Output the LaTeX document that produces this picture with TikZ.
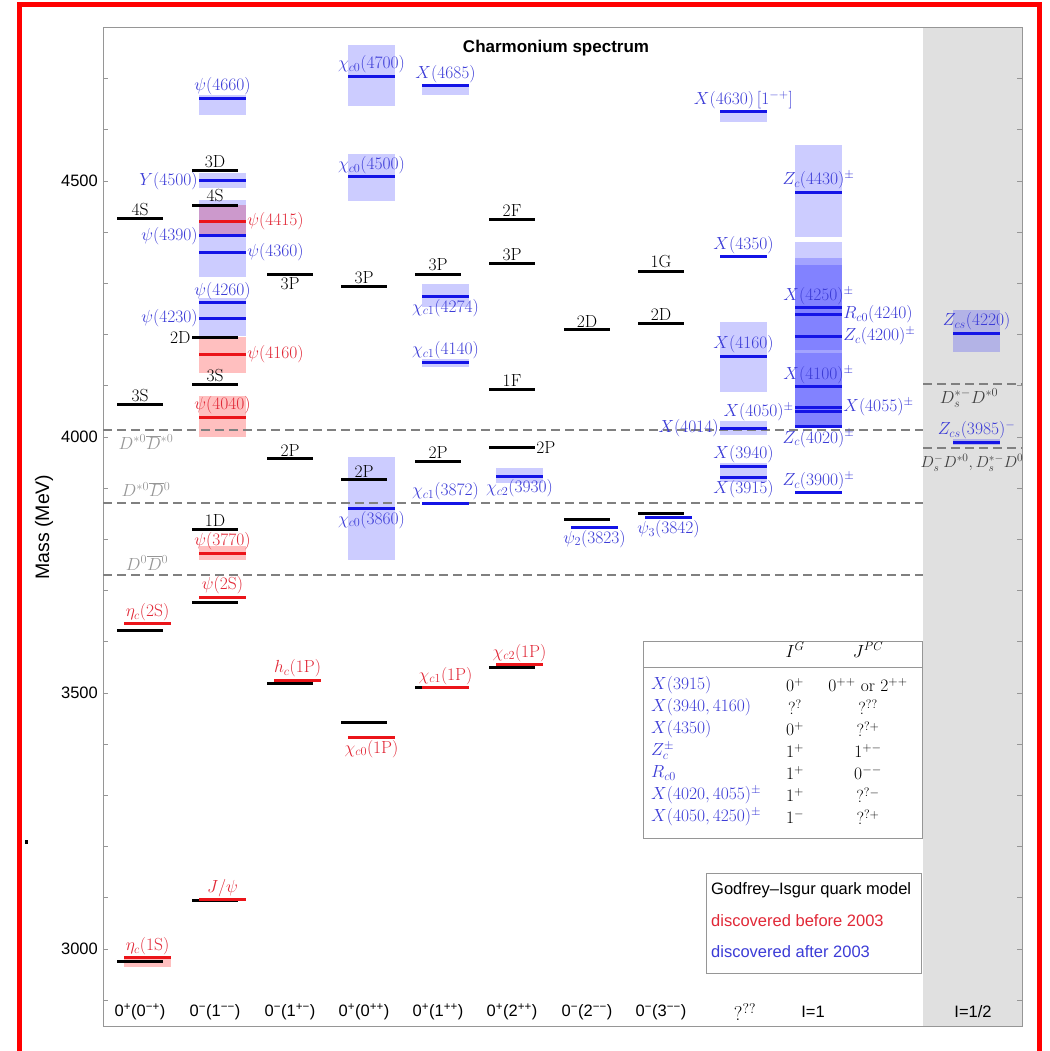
\RequirePackage{fix-cm}
\documentclass[tikz,border=0pt]{standalone}
\usepackage{fontspec}
\setsansfont{Liberation Sans}
\usetikzlibrary{positioning}
\definecolor{barblue}{RGB}{20,20,230}
\definecolor{barred}{RGB}{235,20,25}
\definecolor{txtblue}{RGB}{60,60,215}
\definecolor{txtred}{RGB}{225,40,55}
\definecolor{thrgray}{RGB}{128,128,128}
\definecolor{thrtxt}{RGB}{150,150,150}
\definecolor{bandgray}{RGB}{224,224,224}
\definecolor{framegray}{RGB}{150,150,150}
\tikzset{
  gibar/.style={fill=black, minimum width=46pt, minimum height=3pt, inner sep=0pt},
  cbar/.style={fill=#1, minimum width=47pt, minimum height=3pt, inner sep=0pt},
  lab/.style={font=\fontsize{17.5}{20}\selectfont, inner sep=1pt},
  every label/.style={lab},
  blueband/.style={fill=blue, fill opacity=0.2},
  redband/.style={fill=red, fill opacity=0.25},
  thr/.style={thrgray, line width=2.5pt, dash pattern=on 9pt off 5pt},
  axisframe/.style={draw=framegray, line width=0.8pt},
  axislab/.style={font=\sffamily\fontsize{16.5}{19}\selectfont, inner sep=1pt},
}

\begin{document}
\begin{tikzpicture}[x=1pt, y=0.512pt]
\useasboundingbox (0,2800.8) rectangle (1049,4853.5);

% I=1/2 band, frame and mass axis
\fill[bandgray] (923,2848) rectangle (1022,4800);
\draw[axisframe] (103,2848) rectangle (1022,4800);
\foreach \m in {2900,3000,...,4700} {
  \draw[axisframe] (103,\m) -- (108,\m);
  \draw[axisframe] (1022,\m) -- (1017,\m);
}
\foreach \m in {3000,3500,4000,4500}
  \node[axislab, anchor=east] (t\m) at (99,\m) {\m};
\node[axislab, font=\sffamily\fontsize{19.5}{22}\selectfont, rotate=90] (ylab) at (44,3824) {Mass (MeV)};
\node[axislab, font=\sffamily\bfseries\fontsize{17}{20}\selectfont] (title) at (556,4760) {Charmonium spectrum};
\fill (24.5,3206) rectangle (27.5,3212);

% widths
\foreach \x/\lo/\hi in {140/2965/2985, 215/4391/4453, 215/4125/4195, 215/4000/4080, 215/3759/3787}
  \fill[redband] (\x-16,\lo) rectangle (\x+31,\hi);
\foreach \x/\lo/\hi in {215/4629/4668, 215/4486/4516, 215/4312/4463, 215/4197/4271,
  364/4646/4766, 364/4461/4553, 364/3760/3961, 438/4668/4687, 438/4254/4299,
  438/4136/4152, 512/3910/3940, 736/4615/4635, 736/4088/4225, 736/4004/4031,
  736/3912/3950, 811/4390/4570, 811/4018/4381, 811/4018/4350, 811/4170/4336,
  811/4020/4164, 969/4166/4248, 969/3984/3996}
  \fill[blueband] (\x-16,\lo) rectangle (\x+31,\hi);

% open-charm thresholds
\foreach \xa/\xb/\m in {103/923/4014, 103/923/3871, 103/923/3730, 923/1022/4103, 923/1022/3978}
  \draw[thr] (\xa,\m) -- (\xb,\m);
\node[lab, thrtxt] (th1) at (146,3990) {$D^{*0}\overline{D}{}^{*0}$};
\node[lab, thrtxt] (th2) at (146,3897) {$D^{*0}\overline{D}{}^{0}$};
\node[lab, thrtxt] (th3) at (147,3754) {$D^{0}\overline{D}{}^{0}$};
\node[lab, black!75] (th4) at (969,4076) {$D_s^{*-}D^{*0}$};
\node[lab, black!75, font=\fontsize{16}{19}\selectfont] (th5) at (972,3949) {$D_s^{-}D^{*0}, D_s^{*-}D^{0}$};

% Godfrey-Isgur levels
\foreach \x/\m in {140/3623, 140/2975, 215/3676, 215/3094, 290/3518, 364/3443,
  438/3510, 512/3549, 587/3838, 661/3850}
  \node[gibar] at (\x,\m) {};
\foreach \x/\m/\lab/\side [count=\i] in {140/4426/4S/above, 140/4064/3S/above,
  215/4521/3D/above, 215/4453/4S/above, 215/4195/2D/left, 215/4102/3S/above,
  215/3820/1D/above, 290/4318/3P/below, 290/3957/2P/above, 364/4293/3P/above,
  364/3916/2P/above, 438/4318/3P/above, 438/3953/2P/above, 512/4424/2F/above,
  512/4338/3P/above, 512/4092/1F/above, 512/3980/2P/right, 587/4209/2D/above,
  661/4324/1G/above, 661/4221/2D/above}
  \node[gibar, label={\side:\lab}] (gi\i) at (\x,\m) {};

% discovered before 2003
\foreach \x/\m/\lab/\side [count=\i] in {140/3635/{$\eta_c(2\mathrm{S})$}/above,
  140/2983/{$\eta_c(1\mathrm{S})$}/above, 215/4421/{$\psi(4415)$}/right,
  215/4162/{$\psi(4160)$}/right, 215/4039/{$\psi(4040)$}/above,
  215/3773/{$\psi(3770)$}/above, 215/3687/{$\psi(2\mathrm{S})$}/above,
  215/3097/{$J/\psi$}/above, 290/3525/{$h_c(1\mathrm{P})$}/above,
  364/3414/{$\chi_{c0}(1\mathrm{P})$}/below, 438/3511/{$\chi_{c1}(1\mathrm{P})$}/above,
  512/3556/{$\chi_{c2}(1\mathrm{P})$}/above}
  \node[cbar=barred, label={[txtred]\side:{\lab}}] (rd\i) at (\x+7.5,\m) {};

% discovered after 2003
\foreach \x/\m/\lab/\side [count=\i] in {215/4662/{$\psi(4660)$}/above,
  215/4500/{$Y(4500)$}/left, 215/4393/{$\psi(4390)$}/left,
  215/4361/{$\psi(4360)$}/right, 215/4262/{$\psi(4260)$}/above,
  215/4232/{$\psi(4230)$}/left, 364/4705/{$\chi_{c0}(4700)$}/above,
  364/4508/{$\chi_{c0}(4500)$}/above, 364/3861/{$\chi_{c0}(3860)$}/below,
  438/4686/{$X(4685)$}/above, 438/4275/{$\chi_{c1}(4274)$}/below,
  438/4146/{$\chi_{c1}(4140)$}/above, 438/3871/{$\chi_{c1}(3872)$}/above,
  512/3922/{$\chi_{c2}(3930)$}/below, 587/3824/{$\psi_2(3823)$}/below,
  661/3842/{$\psi_3(3842)$}/below, 736/4635/{$X(4630)\,[1^{-+}]$}/above,
  736/4352/{$X(4350)$}/above, 736/4158/{$X(4160)$}/above,
  736/4017/{$X(4014)$}/left, 736/3943/{$X(3940)$}/above,
  736/3920/{$X(3915)$}/below, 811/4478/{$Z_c(4430)^\pm$}/above,
  811/4252/{$X(4250)^\pm$}/above, 811/4240/{$R_{c0}(4240)$}/right,
  811/4197/{$Z_c(4200)^\pm$}/right, 811/4098/{$X(4100)^\pm$}/above,
  811/4058/{$X(4055)^\pm$}/right, 811/4049/{$X(4050)^\pm$}/left,
  811/4020/{$Z_c(4020)^\pm$}/below, 811/3891/{$Z_c(3900)^\pm$}/above,
  969/4203/{$Z_{cs}(4220)$}/above, 969/3990/{$Z_{cs}(3985)^-$}/above}
  \node[cbar=barblue, label={[txtblue]\side:{\lab}}] (bl\i) at (\x+7.5,\m) {};

% quantum numbers table
\draw[axisframe, fill=white] (643,3216.8) rectangle (922,3601.6);
\draw[axisframe] (643,3550.8) -- (922,3550.8);
\node[lab] (hig) at (795,3584) {$I^G$};
\node[lab] (hjpc) at (868,3584) {$J^{PC}$};
\foreach \nm/\ig/\jpc [count=\r] in {{$X(3915)$}/{$0^+$}/{$0^{++}$ or $2^{++}$},
  {$X(3940,4160)$}/{$?^?$}/{$?^{??}$}, {$X(4350)$}/{$0^+$}/{$?^{?+}$},
  {$Z_c^\pm$}/{$1^+$}/{$1^{+-}$}, {$R_{c0}$}/{$1^+$}/{$0^{--}$},
  {$X(4020,4055)^\pm$}/{$1^+$}/{$?^{?-}$}, {$X(4050,4250)^\pm$}/{$1^-$}/{$?^{?+}$}} {
  \node[lab, txtblue, anchor=west] (tn\r) at (650,3558.6-43*\r) {\nm};
  \node[lab] (tg\r) at (795,3558.6-43*\r) {\ig};
  \node[lab] (tj\r) at (868,3558.6-43*\r) {\jpc};
}

% legend
\draw[axisframe, fill=white] (706,2953) rectangle (921,3148.4);
\node[axislab, anchor=west] (leg1) at (710,3115) {Godfrey--Isgur quark model};
\node[axislab, anchor=west, txtred] (leg2) at (710,3055) {discovered before 2003};
\node[axislab, anchor=west, txtblue] (leg3) at (710,2994) {discovered after 2003};

% column labels
\foreach \x/\jpc [count=\k] in {140/{0\textsuperscript{+}(0\textsuperscript{−+})},
  215/{0\textsuperscript{−}(1\textsuperscript{−−})}, 290/{0\textsuperscript{−}(1\textsuperscript{+−})},
  364/{0\textsuperscript{+}(0\textsuperscript{++})}, 438/{0\textsuperscript{+}(1\textsuperscript{++})},
  512/{0\textsuperscript{+}(2\textsuperscript{++})}, 587/{0\textsuperscript{−}(2\textsuperscript{−−})},
  661/{0\textsuperscript{−}(3\textsuperscript{−−})}, 745/{\rmfamily\fontsize{20}{22}\selectfont$?^{??}$}, 813/{I=1}, 973/{I=1/2}}
  \node[axislab] (col\k) at (\x,2877) {\jpc};

% outer frame
\draw[red, line width=5pt, line join=miter] (19.5,2780) -- (19.5,4844.7) -- (1039.5,4844.7) -- (1039.5,2780);
\end{tikzpicture}
\end{document}
